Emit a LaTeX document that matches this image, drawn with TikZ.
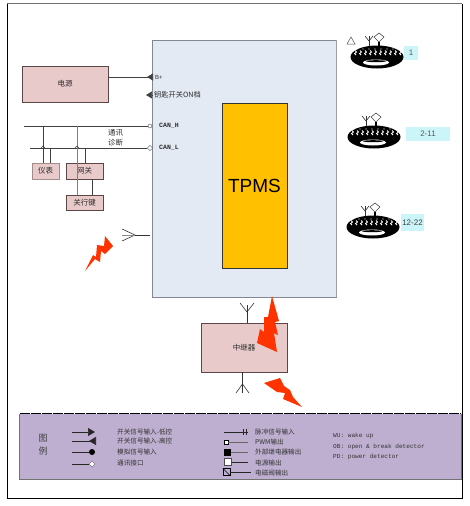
\documentclass[tikz,border=0pt]{standalone}
\usepackage{fontspec}
\setmainfont{Liberation Sans}
\setmonofont{Liberation Mono}
\newfontfamily\cjk{Noto Sans CJK SC}
\usetikzlibrary{shapes.geometric,arrows.meta,calc}
\definecolor{panelblue}{RGB}{228,234,244}
\definecolor{panelgray}{RGB}{130,135,145}
\definecolor{boxpink}{RGB}{232,202,202}
\definecolor{boxedge}{RGB}{95,70,70}
\definecolor{tpmsgold}{RGB}{255,192,0}
\definecolor{boltred}{RGB}{255,51,0}
\definecolor{legendlilac}{RGB}{190,175,208}
\definecolor{tagcyan}{RGB}{204,245,250}
\definecolor{textgray}{RGB}{45,45,45}

\begin{document}
\begin{tikzpicture}[x=1pt,y=-1pt,
pinkbox/.style={draw=boxedge, fill=boxpink, inner sep=0pt, font=\cjk\fontsize{7.5}{8}\selectfont, text=textgray},
wire/.style={draw=black!75, line width=0.7pt},
antenna/.style={draw=black!80, line width=0.6pt},
bolt/.style={fill=boltred, draw=none},
tag/.style={fill=tagcyan, inner sep=0pt, font=\fontsize{8}{9}\selectfont, text=black!65},
canlabel/.style={anchor=west, inner sep=0pt, font=\ttfamily\bfseries\fontsize{6.5}{7}\selectfont, text=textgray},
legtext/.style={anchor=west, inner sep=0pt, font=\cjk\fontsize{6.6}{7}\selectfont, text=black!80},
legnote/.style={anchor=west, inner sep=0pt, font=\ttfamily\fontsize{6.1}{7}\selectfont, text=black!80},
legline/.style={draw=black!85, line width=0.6pt},
tire/.pic={
  \fill[black] (0,0) ellipse (26.5 and 11.5);
  \foreach \tx in {-22,-17,...,23} {
    \draw[white, line width=0.8pt] (\tx,-6.5) -- (\tx+1.5,-5) -- (\tx-0.5,-3.5) -- (\tx+1,-2);
  }
  \foreach \tx in {-20,-14,...,20} {
    \fill[white] (\tx,-8) circle (0.7);
  }
  \fill[white] (-1,5.5) ellipse (13 and 3);
  \fill[black] (-1,4.2) ellipse (10 and 1);
  \draw[antenna] (-8,-11) -- (-8,-21);
  \draw[antenna] (-12,-21) -- (-8,-16) -- (-4,-21);
  \draw[black!70, line width=0.6pt] (2,-24) -- (7,-20) -- (2,-15) -- (-3,-20) -- cycle;
  \draw[line width=1.3pt] (2,-15) -- (2,-11);
}]
\useasboundingbox (0,0) rectangle (469,506);

% frame
\draw[black!55, line width=0.7pt] (7,3.5) -- (462,3.5);
\draw[black, line width=0.8pt] (7,3.5) -- (7,498) -- (462,498) -- (462,3.5);

% main panel
\node[draw=panelgray, fill=panelblue, line width=0.8pt, minimum width=184pt, minimum height=257pt, inner sep=0pt] (ecu) at (244,168.5) {};
\draw[panelgray!80, line width=1.5pt] (ecu.north east) -- (ecu.south east);
\node[draw=black!80, fill=tpmsgold, minimum width=65pt, minimum height=165pt, inner sep=0pt, font=\fontsize{19}{20}\selectfont] (tpms) at (254.5,185.5) {TPMS};

% power and CAN side
\node[pinkbox, minimum width=86pt, minimum height=36pt] (pwr) at (65,84) {电源};
\coordinate (bplus) at (153,77);
\draw[wire, -{Triangle[reversed,length=6pt,width=7pt]}] (pwr.east |- bplus) -- (bplus);
\node[anchor=west, inner sep=0pt, font=\fontsize{6}{7}\selectfont, text=textgray] (bpluslabel) at (155,77) {B+};
\coordinate (keyin) at (146,95);
\coordinate (keyend) at (153,95);
\draw[wire, {Triangle[length=6pt,width=7pt]}-] (keyin) -- (keyend);
\node[anchor=west, inner sep=0pt, font=\cjk\fontsize{7.2}{8}\selectfont, text=textgray] (keylabel) at (154,95) {钥匙开关ON档};

\coordinate (canhstart) at (24,126);
\coordinate (canlstart) at (30,148);
\node[draw=black!70, fill=white, circle, minimum size=4pt, inner sep=0pt] (canhport) at (150,126) {};
\node[draw=black!70, fill=white, diamond, minimum size=5.5pt, inner sep=0pt] (canlport) at (150,148) {};
\draw[wire] (canhstart) -- (canhport);
\draw[wire] (canlstart) -- (canlport);
\node[canlabel] (canhlabel) at (159,126) {CAN\_H};
\node[canlabel] (canllabel) at (159,148) {CAN\_L};
\node[anchor=west, inner sep=0pt, font=\cjk\fontsize{7.5}{8}\selectfont, text=textgray] (commlabel) at (108,133) {通讯};
\node[anchor=west, inner sep=0pt, font=\cjk\fontsize{7.5}{8}\selectfont, text=textgray] (diaglabel) at (108,143) {诊断};

\node[pinkbox, draw=boxpink!70!black, minimum width=27pt, minimum height=16pt] (meter) at (45.5,171) {仪表};
\node[pinkbox, minimum width=37pt, minimum height=16pt] (gateway) at (84.5,171) {网关};
\node[pinkbox, minimum width=37pt, minimum height=15pt] (keybox) at (84.5,202.5) {关行键};

\coordinate (tapa) at (43,126);
\coordinate (tapb) at (50,148);
\coordinate (tapc) at (77,126);
\coordinate (tapd) at (85,148);
\coordinate (tape) at (92,179);
\draw[wire] (tapa) -- (tapa |- meter.north);
\draw[wire] (tapb) -- (tapb |- meter.north);
\draw[wire, draw=black!50] (tapc) -- (tapc |- keybox.north);
\draw[wire] (tapd) -- (tapd |- gateway.north);
\draw[wire] (tape) -- (tape |- keybox.north);
\draw[wire] ($(tapa |- tapb)+(-2,0)$) -- ($(tapa |- tapb)+(0,-2)$) -- ($(tapa |- tapb)+(2,0)$);
\draw[wire] ($(tapc |- tapd)+(-2,0)$) -- ($(tapc |- tapd)+(0,-2)$) -- ($(tapc |- tapd)+(2,0)$);

% left antenna
\coordinate (ecuant) at (150,235);
\coordinate (ecuantfoot) at (135,235);
\draw[antenna] (ecuant) -- (ecuantfoot);
\draw[antenna] (122,229) -- (ecuantfoot) -- (122,241);
\draw[antenna, draw=black!45] (122,235) -- (ecuantfoot);

\fill[bolt] (85,271) -- (93,255) -- (96,257) -- (97,245) -- (104,246) -- (105,236) -- (113,246) -- (105,254) -- (101,251) -- (100,262) -- (95,259) -- cycle;

% repeater
\node[pinkbox, font=\cjk\fontsize{7.5}{8}\selectfont, minimum width=86pt, minimum height=49pt] (relay) at (244,347.5) {中继器};
\coordinate (relaytop) at (247,312);
\coordinate (relaybot) at (242.5,384);
\draw[antenna] (relay.north -| relaytop) -- (relaytop);
\draw[antenna] (240,303) -- (relaytop) -- (254,303);
\draw[antenna] (247,305) -- (relaytop);
\draw[antenna] (relay.south -| relaybot) -- (relaybot);
\draw[antenna] (236,393) -- (relaybot) -- (249,393);
\draw[antenna] (242.5,393) -- (relaybot);

\fill[bolt] (272,296) -- (279,321) -- (275,322) -- (278,335) -- (274,333) -- (277,352) -- (257,343) -- (260,329) -- (264,332) -- (264,317) -- (268,317) -- cycle;
\fill[bolt] (264,383) -- (280,378) -- (284,386) -- (290,390) -- (293,397) -- (302,407) -- (283,399) -- (285,393) -- (277,392) -- cycle;

% tires
\pic (tirea) at (377,57) {tire};
\pic (tireb) at (374,137) {tire};
\pic (tirec) at (373,227) {tire};
\draw[black!70, line width=0.5pt] (351,37) -- (355,44) -- (347,44) -- cycle;
\node[tag, minimum width=14pt, minimum height=14pt] (taga) at (411,53) {1};
\node[tag, minimum width=44pt, minimum height=14pt] (tagb) at (428,134) {2-11};
\node[tag, minimum width=23pt, minimum height=17pt, text=black!75] (tagc) at (412.5,222.5) {12-22};

% legend
\node[fill=legendlilac, minimum width=441pt, minimum height=65pt, inner sep=0pt] (legend) at (240.5,446.5) {};
\draw[black, line width=0.8pt, dash pattern=on 10pt off 1pt] (legend.north west) -- (legend.north east);
\draw[black!55, line width=0.8pt] (legend.north west) -- (legend.south west) -- (legend.south east) -- (legend.north east);
\node[inner sep=0pt, font=\cjk\fontsize{9}{10}\selectfont, text=black!75] (legtitlea) at (43,438) {图};
\node[inner sep=0pt, font=\cjk\fontsize{9}{10}\selectfont, text=black!75] (legtitleb) at (43,451) {例};

\coordinate (la1) at (72,432); \coordinate (la2) at (95,432);
\draw[legline, -{Triangle[length=7pt,width=8pt]}] (la1) -- (la2);
\coordinate (lb1) at (72,441); \coordinate (lb2) at (96,441);
\draw[legline, -{Triangle[reversed,length=7pt,width=8pt]}] (lb1) -- (lb2);
\coordinate (lc1) at (72,452);
\node[fill=black, circle, minimum size=6pt, inner sep=0pt] (lcdot) at (92,452) {};
\draw[legline] (lc1) -- (lcdot);
\coordinate (ld1) at (72,464);
\node[draw=black!60, fill=white, diamond, minimum size=6pt, inner sep=0pt] (lddia) at (92,464) {};
\draw[legline] (ld1) -- (lddia);

\node[legtext] (lta) at (117,431.5) {开关信号输入-低控};
\node[legtext] (ltb) at (117,441) {开关信号输入-高控};
\node[legtext] (ltc) at (117,452) {模拟信号输入};
\node[legtext] (ltd) at (117,463.5) {通讯接口};

\coordinate (ra1) at (224,432); \coordinate (ra2) at (248,432);
\draw[legline] (ra1) -- (ra2);
\draw[legline] (243,429) -- (243,435);
\draw[legline] (246,429) -- (246,435);
\coordinate (rb2) at (248,442);
\node[draw=black, fill=white, minimum size=3.5pt, inner sep=0pt] (rbsq) at (226,442) {};
\draw[legline, draw=black!60] (rbsq) -- (rb2);
\coordinate (rc2) at (248,452);
\node[fill=black, minimum size=7pt, inner sep=0pt] (rcsq) at (227.5,452) {};
\draw[legline, draw=black!60] (rcsq) -- (rc2);
\coordinate (rd2) at (248,462);
\node[draw=black!70, fill=white, minimum size=7pt, inner sep=0pt] (rdsq) at (228,462) {};
\draw[legline, line width=0.9pt] (rdsq) -- (rd2);
\coordinate (re2) at (251,472);
\node[draw=black, fill=legendlilac, minimum size=7pt, inner sep=0pt] (resq) at (226.5,472) {};
\draw[black, line width=0.5pt] (resq.north west) -- (resq.south east);
\draw[legline, line width=0.9pt] (resq) -- (re2);

\node[legtext] (rta) at (255,432) {脉冲信号输入};
\node[legtext] (rtb) at (255,442) {PWM输出};
\node[legtext] (rtc) at (255,452) {外部继电器输出};
\node[legtext] (rtd) at (255,463) {电源输出};
\node[legtext] (rte) at (255,472.5) {电磁阀输出};

\node[legnote] (notea) at (333,436) {WU: wake up};
\node[legnote] (noteb) at (333,447) {OB: open \& break detector};
\node[legnote] (notec) at (333,457) {PD: power detector};

\end{tikzpicture}
\end{document}
